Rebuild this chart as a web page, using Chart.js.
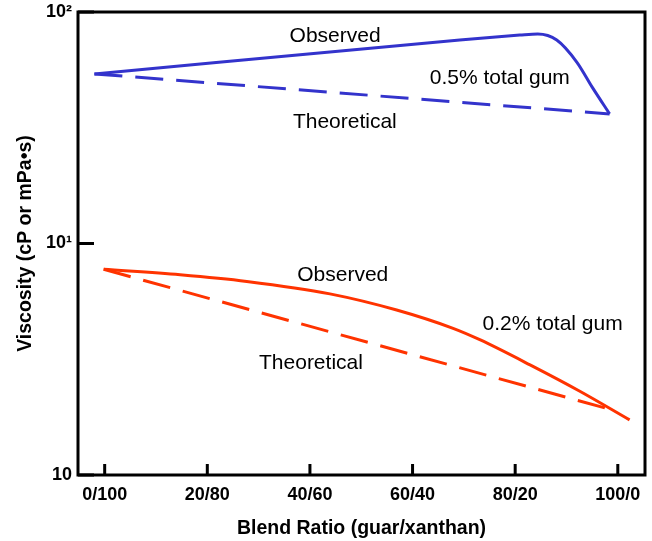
<!DOCTYPE html>
<html>
<head>
<meta charset="utf-8">
<script src="https://cdn.jsdelivr.net/npm/chart.js@4"></script>
<style>
html, body { margin: 0; padding: 0; background: #fff; }
#wrap { width: 652px; height: 541px; }
</style>
</head>
<body>
<div id="wrap"><canvas id="viscChart"></canvas></div>
<script>
const ratioTicks = [0, 20, 40, 60, 80, 100];
const ratioLabels = ['0/100', '20/80', '40/60', '60/40', '80/20', '100/0'];
const viscTicks = [1, 10, 100];
const viscLabels = ['10', '10¹', '10²'];

// 0.5% total gum
const obs05x = [-2.0, 69.2, 80.9, 84.4, 88.1, 92.0, 95.1, 98.4];
const obs05y = [54.0, 75.7, 79.5, 80.4, 75.7, 60.8, 47.0, 36.3];
const theo05x = [-2.0, 98.4];
const theo05y = [54.0, 36.3];

// 0.2% total gum
const obs02x = [-0.2, 14.7, 27.7, 43.9, 56.9, 67.9, 73.1, 82.9, 92.6, 102.3];
const obs02y = [7.74, 7.33, 6.86, 6.06, 5.16, 4.30, 3.84, 2.99, 2.30, 1.73];
const theo02x = [-0.2, 97.8];
const theo02y = [7.74, 1.94];

const noteText = ['Observed', '0.5% total gum', 'Theoretical', 'Observed', '0.2% total gum', 'Theoretical'];
const noteX = [44.9, 77.0, 46.8, 46.4, 87.3, 40.2];
const noteY = [78.8, 51.9, 33.5, 7.31, 4.49, 3.05];

const blue = '#3333CC';
const red = '#FF3300';
const fontFam = '"Liberation Sans", Arial, sans-serif';

const pts = (xs, ys) => xs.map((v, i) => ({ x: v, y: ys[i] }));

const frameAndNotes = {
    id: 'frameAndNotes',
    afterDraw(chart) {
        const { ctx, chartArea: a, scales: { x, y } } = chart;
        ctx.save();
        ctx.strokeStyle = '#000';
        ctx.lineWidth = 3;
        ctx.strokeRect(a.left, a.top, a.right - a.left, a.bottom - a.top);
        ctx.beginPath();
        ratioTicks.forEach(v => {
            const px = x.getPixelForValue(v);
            ctx.moveTo(px, a.bottom);
            ctx.lineTo(px, a.bottom - 11);
        });
        viscTicks.forEach(v => {
            const py = y.getPixelForValue(v);
            ctx.moveTo(a.left, py);
            ctx.lineTo(a.left + 16, py);
        });
        ctx.stroke();

        ctx.fillStyle = '#000';
        ctx.font = '21px ' + fontFam;
        ctx.textAlign = 'center';
        ctx.textBaseline = 'middle';
        noteText.forEach((t, i) => {
            ctx.fillText(t, x.getPixelForValue(noteX[i]), y.getPixelForValue(noteY[i]));
        });
        ctx.restore();
    }
};

new Chart(document.getElementById('viscChart'), {
    type: 'line',
    data: {
        datasets: [
            {
                label: 'Observed 0.5%',
                data: pts(obs05x, obs05y),
                borderColor: blue,
                borderWidth: 3,
                cubicInterpolationMode: 'monotone',
                pointRadius: 0
            },
            {
                label: 'Theoretical 0.5%',
                data: pts(theo05x, theo05y),
                borderColor: blue,
                borderWidth: 3,
                borderDash: [28, 13],
                pointRadius: 0
            },
            {
                label: 'Observed 0.2%',
                data: pts(obs02x, obs02y),
                borderColor: red,
                borderWidth: 3,
                cubicInterpolationMode: 'monotone',
                pointRadius: 0
            },
            {
                label: 'Theoretical 0.2%',
                data: pts(theo02x, theo02y),
                borderColor: red,
                borderWidth: 3,
                borderDash: [28, 13],
                pointRadius: 0
            }
        ]
    },
    options: {
        responsive: true,
        maintainAspectRatio: false,
        animation: false,
        layout: { padding: { top: 12, right: 7, left: 0, bottom: 0 } },
        plugins: {
            legend: { display: false },
            tooltip: { enabled: false }
        },
        scales: {
            x: {
                type: 'linear',
                min: -5.2,
                max: 105.3,
                afterBuildTicks: s => { s.ticks = ratioTicks.map(v => ({ value: v })); },
                afterFit: s => { s.height = 66; s.paddingLeft = 0; s.paddingRight = 0; },
                grid: { display: false, drawTicks: false },
                border: { display: false },
                ticks: {
                    autoSkip: false,
                    maxRotation: 0,
                    padding: 9,
                    color: '#000',
                    font: { family: fontFam, size: 18, weight: 'bold' },
                    callback: v => ratioLabels[ratioTicks.indexOf(v)]
                },
                title: {
                    display: true,
                    text: 'Blend Ratio (guar/xanthan)',
                    color: '#000',
                    padding: { top: 0, bottom: 1 },
                    font: { family: fontFam, size: 19.5, weight: 'bold' }
                }
            },
            y: {
                type: 'logarithmic',
                min: 1,
                max: 100,
                afterBuildTicks: s => { s.ticks = viscTicks.map(v => ({ value: v })); },
                afterFit: s => { s.width = 78; s.paddingTop = 0; s.paddingBottom = 0; },
                grid: { display: false, drawTicks: false },
                border: { display: false },
                ticks: {
                    autoSkip: false,
                    padding: 6,
                    color: '#000',
                    font: { family: fontFam, size: 18, weight: 'bold' },
                    callback: v => viscLabels[viscTicks.indexOf(v)]
                },
                title: {
                    display: true,
                    text: 'Viscosity (cP or mPa•s)',
                    color: '#000',
                    padding: { top: 14, bottom: 0 },
                    font: { family: fontFam, size: 19.5, weight: 'bold' }
                }
            }
        }
    },
    plugins: [frameAndNotes]
});
</script>
</body>
</html>
